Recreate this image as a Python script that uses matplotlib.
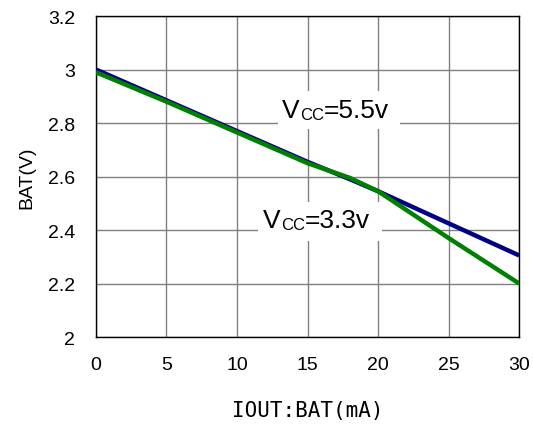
import matplotlib
matplotlib.use("Agg")
import matplotlib.pyplot as plt

# ---- data ----
iout = [0, 5, 10, 15, 18, 20, 25, 30]
bat_55 = [3.00, 2.885, 2.77, 2.655, 2.59, 2.545, 2.425, 2.305]
bat_33 = [2.99, 2.88, 2.765, 2.65, 2.595, 2.545, 2.37, 2.20]

xticks = [0, 5, 10, 15, 20, 25, 30]
yticks = [2, 2.2, 2.4, 2.6, 2.8, 3, 3.2]
yticklabels = ["2", "2.2", "2.4", "2.6", "2.8", "3", "3.2"]

plt.rcParams["font.family"] = ["Liberation Sans", "DejaVu Sans"]

fig = plt.figure(figsize=(5.33, 4.27), dpi=100)
ax = fig.add_axes([0.180, 0.2084, 0.794, 0.7516])

ax.plot(iout, bat_55, color="#000080", lw=3.2, solid_capstyle="butt", zorder=3)
ax.plot(iout, bat_33, color="#008000", lw=3.2, solid_capstyle="butt", zorder=4)

ax.set_xlim(0, 30)
ax.set_ylim(2, 3.2)
ax.set_xticks(xticks)
ax.set_yticks(yticks)
ax.set_yticklabels(yticklabels)
ax.tick_params(length=0, labelsize=14)
ax.tick_params(axis="y", pad=15)
ax.tick_params(axis="x", pad=14)
ax.grid(True, color="#808080", lw=1.0)
ax.set_axisbelow(True)
for s in ax.spines.values():
    s.set_color("black")
    s.set_linewidth(1.0)

ax.set_ylabel("BAT(V)", fontsize=14)
ax.yaxis.set_label_coords(-0.144, 0.5)
ax.set_xlabel("IOUT:BAT(mA)", fontsize=15, family="DejaVu Sans Mono")
ax.xaxis.set_label_coords(0.5, -0.196)

# ---- labels with white boxes ----
def vcc_label(xc, yc, value, x0, x1, y0, y1):
    ax.fill_between([x0, x1], y0, y1, color="white", zorder=5, lw=0)
    t1 = ax.text(xc, yc, "V", fontsize=19, ha="left", va="baseline", zorder=6)
    t2 = ax.annotate("CC", xy=(1, 0), xycoords=t1, fontsize=12,
                     va="bottom", ha="left", zorder=6)
    ax.annotate("=" + value, xy=(1, 0), xycoords=t2, fontsize=19,
                va="bottom", ha="left", zorder=6)

vcc_label(13.2, 2.822, "5.5v", 12.9, 21.56, 2.778, 2.92)
vcc_label(11.85, 2.411, "3.3v", 11.5, 20.28, 2.359, 2.505)

fig.savefig("out.png", dpi=100)
